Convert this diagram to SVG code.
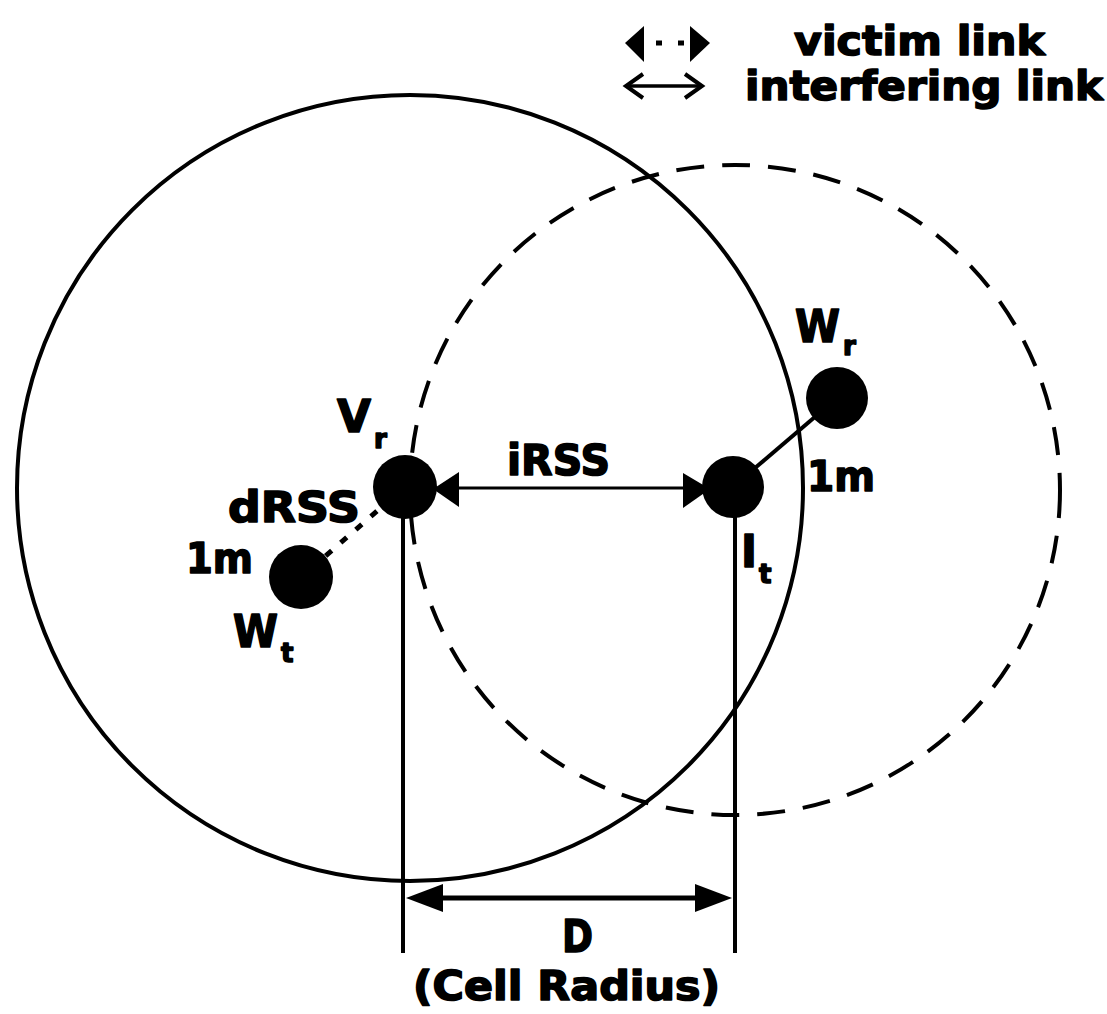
<svg xmlns="http://www.w3.org/2000/svg" width="1107" height="1014" viewBox="0 0 1107 1014">
  <style>
    .t { font-family: "DejaVu Sans", "Liberation Sans", sans-serif; font-weight: bold; fill: #000; stroke: #000; stroke-width: 1.6; stroke-linejoin: round; }
    .big { font-size: 42px; }
    .cap { font-size: 45px; }
    .sub { font-size: 26px; }
    .node { fill: #000; }
    .ln { stroke: #000; fill: none; }
  </style>
  <rect width="1107" height="1014" fill="#fff"/>

  <!-- cells -->
  <g id="cells">
    <circle id="cell-victim" cx="410" cy="488" r="393" class="ln" stroke-width="4"/>
    <circle id="cell-interferer" cx="735" cy="490" r="325" class="ln" stroke-width="4" stroke-dasharray="28 18"/>
  </g>

  <!-- connectors -->
  <g id="connectors">
    <!-- vertical guide lines -->
    <line x1="403" y1="487" x2="403" y2="953" class="ln" stroke-width="4"/>
    <line x1="735" y1="487" x2="735" y2="953" class="ln" stroke-width="4"/>
    <!-- D dimension arrow -->
    <line x1="430" y1="898" x2="710" y2="898" class="ln" stroke-width="5"/>
    <polygon points="406,898 443,884 443,912" fill="#000"/>
    <polygon points="732,898 695,884 695,912" fill="#000"/>
    <!-- iRSS interfering link -->
    <line x1="450" y1="488" x2="690" y2="488" class="ln" stroke-width="3"/>
    <polygon points="433,489 459,472 459,507" fill="#000"/>
    <polygon points="710,489 683,473 683,508" fill="#000"/>
    <!-- It - Wr link -->
    <line x1="755" y1="468" x2="816" y2="416" class="ln" stroke-width="4"/>
    <!-- Vr - Wt victim (dotted) link -->
    <line x1="392" y1="498" x2="322" y2="559" class="ln" stroke-width="5" stroke-dasharray="8 12"/>
  </g>

  <!-- nodes -->
  <g id="node-Vr">
    <circle cx="405" cy="487" r="32" class="node"/>
    <text x="337" y="432" class="t cap" textLength="34" lengthAdjust="spacingAndGlyphs">V</text>
    <text x="374" y="448" class="t sub">r</text>
  </g>
  <g id="node-It">
    <circle cx="733" cy="487" r="31" class="node"/>
    <text x="741" y="567" class="t cap" textLength="16" lengthAdjust="spacingAndGlyphs">I</text>
    <text x="759" y="583" class="t sub">t</text>
  </g>
  <g id="node-Wr">
    <circle cx="837" cy="398" r="31" class="node"/>
    <text x="795" y="342" class="t cap" textLength="45" lengthAdjust="spacingAndGlyphs">W</text>
    <text x="843" y="355" class="t sub">r</text>
  </g>
  <g id="node-Wt">
    <circle cx="301" cy="577" r="32" class="node"/>
    <text x="233" y="647" class="t cap" textLength="45" lengthAdjust="spacingAndGlyphs">W</text>
    <text x="281" y="662" class="t sub">t</text>
  </g>

  <!-- labels -->
  <g id="labels">
    <text x="507" y="475" class="t big" textLength="103" lengthAdjust="spacingAndGlyphs">iRSS</text>
    <text x="228" y="522" class="t big" textLength="132" lengthAdjust="spacingAndGlyphs">dRSS</text>
    <text x="186" y="573" class="t big" textLength="67" lengthAdjust="spacingAndGlyphs">1m</text>
    <text x="807" y="491" class="t big" textLength="68" lengthAdjust="spacingAndGlyphs">1m</text>
    <text x="562" y="952" class="t cap" textLength="31" lengthAdjust="spacingAndGlyphs">D</text>
    <text x="413" y="1000" class="t" font-size="40" textLength="307" lengthAdjust="spacingAndGlyphs">(Cell Radius)</text>
  </g>

  <!-- legend -->
  <g id="legend">
    <line x1="640" y1="43" x2="695" y2="43" class="ln" stroke-width="5" stroke-dasharray="0 16 6 16 6 20"/>
    <polygon points="625,43 644,26 644,62" fill="#000"/>
    <polygon points="710,43 690,26 690,62" fill="#000"/>
    <line x1="628" y1="86" x2="699" y2="86" class="ln" stroke-width="3.5"/>
    <polyline points="643,74 626,86 643,98" class="ln" stroke-width="4"/>
    <polyline points="685,74 702,86 685,98" class="ln" stroke-width="4"/>
    <text x="794" y="55" class="t" font-size="40" textLength="251" lengthAdjust="spacingAndGlyphs">victim link</text>
    <text x="745" y="100" class="t" font-size="40" textLength="358" lengthAdjust="spacingAndGlyphs">interfering link</text>
  </g>
</svg>
